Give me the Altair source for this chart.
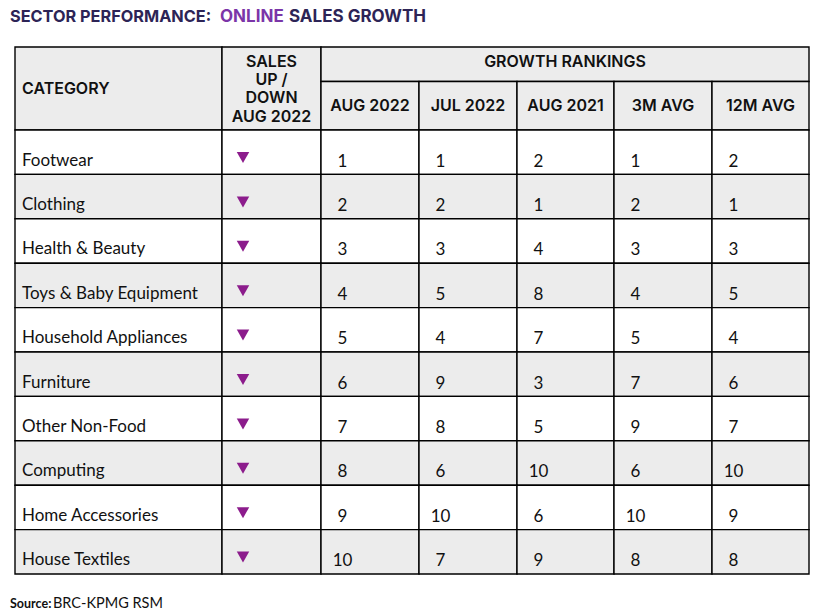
import altair as alt
import pandas as pd

# ---------------- data ----------------
categories = [
    "Footwear", "Clothing", "Health & Beauty", "Toys & Baby Equipment",
    "Household Appliances", "Furniture", "Other Non-Food", "Computing",
    "Home Accessories", "House Textiles",
]
sales_direction = ["down"] * 10
rank_columns = ["AUG 2022", "JUL 2022", "AUG 2021", "3M AVG", "12M AVG"]
rank_aug2022 = [1, 2, 3, 4, 5, 6, 7, 8, 9, 10]
rank_jul2022 = [1, 2, 3, 5, 4, 9, 8, 6, 10, 7]
rank_aug2021 = [2, 1, 4, 8, 7, 3, 5, 10, 6, 9]
rank_3m_avg = [1, 2, 3, 4, 5, 7, 9, 6, 10, 8]
rank_12m_avg = [2, 1, 3, 5, 4, 6, 7, 10, 9, 8]
rank_values = [rank_aug2022, rank_jul2022, rank_aug2021, rank_3m_avg, rank_12m_avg]

title_parts = ["SECTOR PERFORMANCE:", "ONLINE", "SALES GROWTH"]
header_category = "CATEGORY"
header_sales = ["SALES", "UP /", "DOWN", "AUG 2022"]
header_growth = "GROWTH RANKINGS"
source_parts = ["Source:", "BRC-KPMG RSM"]

# ---------------- layout (page pixels) ----------------
W, H = 807, 608
col_edges = [15, 222, 321, 419, 517, 614, 712, 809]
table_top, header_mid, header_bottom = 47, 81.5, 130
row_h = 44.4
GRAY = "#ececec"
DARK = "#2d2456"
PURPLE = "#7b35a8"
TRI = "#8c1c8c"
HDR_SIZE = 16

xs = alt.Scale(domain=[8, 8 + W], range=[0, W])
ys = alt.Scale(domain=[8, 8 + H], range=[0, H])

# cells
cells = []
cells.append(dict(x=col_edges[0], x2=col_edges[1], y=table_top, y2=header_bottom, fill=GRAY))
cells.append(dict(x=col_edges[1], x2=col_edges[2], y=table_top, y2=header_bottom, fill=GRAY))
cells.append(dict(x=col_edges[2], x2=col_edges[-1], y=table_top, y2=header_mid, fill=GRAY))
for j in range(5):
    cells.append(dict(x=col_edges[2 + j], x2=col_edges[3 + j], y=header_mid, y2=header_bottom, fill=GRAY))
for i, _ in enumerate(categories):
    y0 = header_bottom + i * row_h
    fill = "#ffffff" if i % 2 == 0 else GRAY
    for j in range(len(col_edges) - 1):
        cells.append(dict(x=col_edges[j], x2=col_edges[j + 1], y=y0, y2=y0 + row_h, fill=fill))
cells_df = pd.DataFrame(cells)

rects = alt.Chart(cells_df).mark_rect(stroke="#000000", strokeWidth=1.4).encode(
    x=alt.X("x:Q", scale=xs, axis=None),
    x2="x2:Q",
    y=alt.Y("y:Q", scale=ys, axis=None),
    y2="y2:Q",
    fill=alt.Fill("fill:N", scale=None),
)

# header texts
hdr = [dict(x=22, y=93.5, t=header_category, a="left")]
for k, line in enumerate(header_sales):
    hdr.append(dict(x=271.5, y=66.5 + k * 18.4, t=line, a="center"))
hdr.append(dict(x=(col_edges[2] + col_edges[-1]) / 2, y=67, t=header_growth, a="center"))
for j, name in enumerate(rank_columns):
    hdr.append(dict(x=(col_edges[2 + j] + col_edges[3 + j]) / 2, y=111, t=name, a="center"))
hdr_df = pd.DataFrame(hdr)


def text_layer(df, align, **kw):
    return alt.Chart(df).mark_text(align=align, baseline="alphabetic", **kw).encode(
        x=alt.X("x:Q", scale=xs, axis=None),
        y=alt.Y("y:Q", scale=ys, axis=None),
        text=alt.Text("t:N"),
    )


hdr_left = text_layer(hdr_df[hdr_df.a == "left"], "left", font="Inter", fontSize=HDR_SIZE,
                      fontWeight=600, color="#111111")
hdr_center = text_layer(hdr_df[hdr_df.a == "center"], "center", font="Inter", fontSize=HDR_SIZE,
                        fontWeight=600, color="#111111")

# body texts
cat_rows, num_rows, tri_rows = [], [], []
for i, c in enumerate(categories):
    y0 = header_bottom + i * row_h
    cat_rows.append(dict(x=22, y=y0 + 35.5, t=c))
    tri_rows.append(dict(x=243, y=y0 + 27.5, d=sales_direction[i]))
    for j, vals in enumerate(rank_values):
        num_rows.append(dict(x=col_edges[2 + j] + 21.5, y=y0 + 36.5, t=str(vals[i])))

cat_layer = text_layer(pd.DataFrame(cat_rows), "left", font="Lato", fontSize=17, color="#111111")
num_layer = text_layer(pd.DataFrame(num_rows), "center", font="Lato", fontSize=17, color="#111111")

tri_layer = alt.Chart(pd.DataFrame(tri_rows)).mark_point(
    shape="M-1,-0.88L1,-0.88L0,0.88Z", size=156, filled=True, opacity=1, color=TRI, strokeWidth=0
).encode(
    x=alt.X("x:Q", scale=xs, axis=None),
    y=alt.Y("y:Q", scale=ys, axis=None),
)

# title (three pieces, the middle one in purple)
title_df = pd.DataFrame([
    dict(x=10, y=21.7, t=title_parts[0], c=DARK, s="a"),
    dict(x=220, y=21.7, t=title_parts[1], c=PURPLE, s="b"),
    dict(x=289, y=21.7, t=title_parts[2], c=DARK, s="b"),
])


def title_piece(df, size):
    return alt.Chart(df).mark_text(
        align="left", baseline="alphabetic", font="Inter", fontSize=size, fontWeight=700
    ).encode(
        x=alt.X("x:Q", scale=xs, axis=None),
        y=alt.Y("y:Q", scale=ys, axis=None),
        text=alt.Text("t:N"),
        color=alt.Color("c:N", scale=None),
    )


title_a = title_piece(title_df[title_df.s == "a"], 16.3)
title_b = title_piece(title_df[title_df.s == "b"], 17)

# source
src_bold = text_layer(pd.DataFrame([dict(x=10, y=607.5, t=source_parts[0])]), "left",
                      font="Lato", fontSize=12.5, fontWeight="bold", color="#111111")
src_reg = text_layer(pd.DataFrame([dict(x=53, y=607.5, t=source_parts[1])]), "left",
                     font="Lato", fontSize=14.5, color="#111111")

chart = alt.layer(
    rects, hdr_left, hdr_center, cat_layer, num_layer, tri_layer, title_a, title_b, src_bold, src_reg
).properties(
    width=W, height=H, autosize=alt.AutoSizeParams(type="none"), padding=0
).configure_view(stroke=None)

chart.save("out.html", embed_options={"renderer": "svg", "actions": False})
